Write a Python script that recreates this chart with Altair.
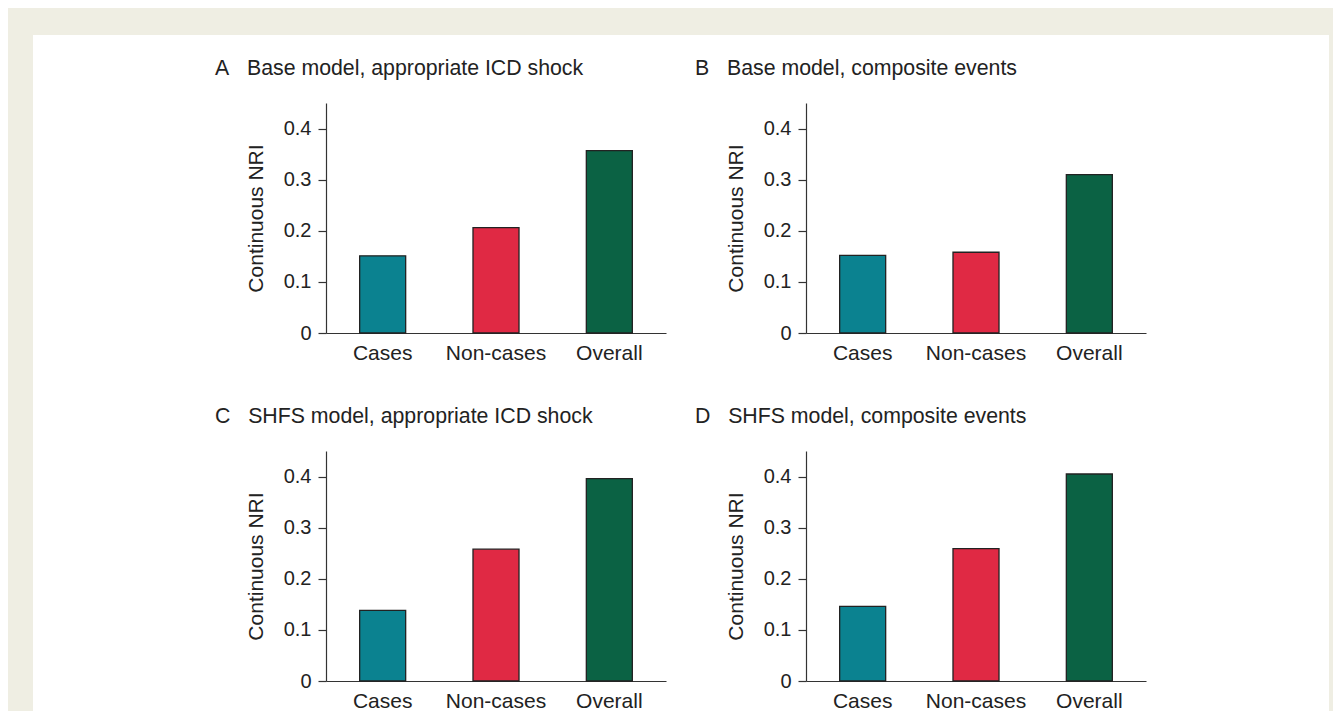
import altair as alt
import pandas as pd

categories = ["Cases", "Non-cases", "Overall"]
panel_titles = [
    "A\u00a0\u00a0\u00a0Base model, appropriate ICD shock",
    "B\u00a0\u00a0\u00a0Base model, composite events",
    "C\u00a0\u00a0\u00a0SHFS model, appropriate ICD shock",
    "D\u00a0\u00a0\u00a0SHFS model, composite events",
]
values_a = [0.151, 0.206, 0.357]
values_b = [0.152, 0.158, 0.310]
values_c = [0.138, 0.258, 0.396]
values_d = [0.146, 0.259, 0.405]
bar_colors = ["#0b8290", "#e02944", "#0b6244"]
y_ticks = [0, 0.1, 0.2, 0.3, 0.4]

FONT = "Liberation Sans"
W, H = 340, 230


def panel(values, title):
    df = pd.DataFrame({"group": categories, "nri": values})
    return alt.Chart(df).mark_bar(stroke="#222222", strokeWidth=1.3).encode(
        x=alt.X(
            "group:N",
            sort=categories,
            scale=alt.Scale(paddingInner=0.594, paddingOuter=0.297),
            axis=alt.Axis(
                title=None, labelAngle=0, ticks=False, labelPadding=9,
                labelFontSize=21, labelFont=FONT, labelColor="#222222",
                domainColor="#333333", domainWidth=1.2,
            ),
        ),
        y=alt.Y(
            "nri:Q",
            scale=alt.Scale(domain=[0, 0.45], nice=False),
            axis=alt.Axis(
                title="Continuous NRI", values=y_ticks,
                labelExpr="datum.value == 0 ? '0' : format(datum.value, '.1f')",
                tickSize=8, tickColor="#333333", tickWidth=1.2,
                labelPadding=7, labelFontSize=20, labelFont=FONT,
                labelColor="#222222", domainColor="#333333", domainWidth=1.2,
                titleFontSize=21, titleFont=FONT, titleFontWeight="normal",
                titleColor="#222222", titlePadding=17, grid=False,
            ),
        ),
        color=alt.Color("group:N", sort=categories,
                        scale=alt.Scale(domain=categories, range=bar_colors),
                        legend=None),
    ).properties(
        width=W, height=H,
        title=alt.TitleParams(
            title, anchor="start", frame="group", dx=-111, offset=24,
            fontSize=21.3, font=FONT, fontWeight="normal", color="#222222",
        ),
    )


# white inner panel drawn first, beneath the four charts
bg = alt.Chart(pd.DataFrame({"k": [0]})).mark_rect(color="white").encode(
    x=alt.value(-293), x2=alt.value(1003),
    y=alt.value(-67), y2=alt.value(609),
).properties(width=1, height=1)

grid = alt.concat(
    panel(values_a, panel_titles[0]),
    panel(values_b, panel_titles[1]),
    panel(values_c, panel_titles[2]),
    panel(values_d, panel_titles[3]),
    columns=2,
    spacing=alt.RowColnumber(row=118, column=140),
    bounds="flush",
)

chart = alt.vconcat(bg, grid, spacing=0, bounds="flush").properties(
    background="#efeee3",
    padding={"left": 25, "top": 27, "right": 4, "bottom": 0},
).configure_view(stroke=None)

chart.save("out.html", embed_options={"renderer": "svg", "actions": False})
